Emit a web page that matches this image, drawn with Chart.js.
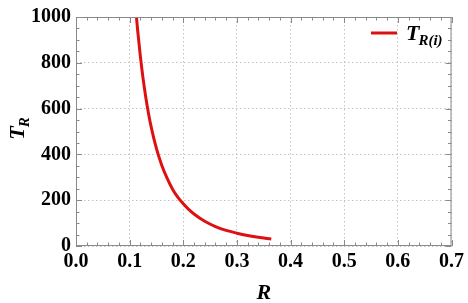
<!DOCTYPE html>
<html>
<head>
<meta charset="utf-8">
<script src="https://cdn.jsdelivr.net/npm/chart.js@4.4.0/dist/chart.umd.min.js"></script>
<style>
  html, body { margin: 0; padding: 0; background: #fff; }
</style>
</head>
<body>
<canvas id="grafico" width="468" height="303"></canvas>
<script>
// valores
var rValores = [0.1127, 0.115, 0.12, 0.125, 0.13, 0.135, 0.14, 0.15, 0.16, 0.17, 0.18, 0.19, 0.20, 0.21, 0.22, 0.24, 0.26, 0.28, 0.30, 0.32, 0.34, 0.364];
var tValores = [1000, 940, 828, 732, 651, 581, 521, 425, 352, 295, 248, 212, 184, 160, 140, 108, 85, 68, 56, 46, 38, 31];
var xTicks = [0, 0.1, 0.2, 0.3, 0.4, 0.5, 0.6, 0.7];
var xEtiquetas = ['0.0', '0.1', '0.2', '0.3', '0.4', '0.5', '0.6', '0.7'];
var yTicks = [0, 200, 400, 600, 800, 1000];
var yEtiquetas = ['0', '200', '400', '600', '800', '1000'];

var rojo = '#dd1111';
var gris = '#8a8a8a';
var fuente = '"Liberation Serif", "Times New Roman", serif';

var puntos = rValores.map(function (r, i) { return { x: r, y: tValores[i] }; });

// marco, ticks hacia adentro, titulos y leyenda
var marco = {
  id: 'marco',
  afterDraw: function (chart) {
    var ctx = chart.ctx;
    var a = chart.chartArea;
    var sx = chart.scales.x, sy = chart.scales.y;
    ctx.save();
    ctx.strokeStyle = gris;
    ctx.lineWidth = 1;
    ctx.strokeRect(a.left + 0.5, a.top + 0.5, a.right - a.left - 1, a.bottom - a.top - 1);
    ctx.beginPath();
    for (var i = 0; i <= 35; i++) {
      var v = i * 0.02;
      var px = Math.round(sx.getPixelForValue(v)) + 0.5;
      var len = (i % 5 === 0) ? 6 : 3.5;
      ctx.moveTo(px, a.bottom); ctx.lineTo(px, a.bottom - len);
      ctx.moveTo(px, a.top); ctx.lineTo(px, a.top + len);
    }
    for (var j = 0; j <= 20; j++) {
      var w = j * 50;
      var py = Math.round(sy.getPixelForValue(w)) + 0.5;
      var l2 = (j % 4 === 0) ? 6 : 3.5;
      ctx.moveTo(a.left, py); ctx.lineTo(a.left + l2, py);
      ctx.moveTo(a.right, py); ctx.lineTo(a.right - l2, py);
    }
    ctx.stroke();

    // titulo eje x
    ctx.fillStyle = '#000';
    ctx.textBaseline = 'alphabetic';
    ctx.textAlign = 'center';
    ctx.font = 'italic bold 22px ' + fuente;
    ctx.fillText('R', (a.left + a.right) / 2, 299);

    // titulo eje y
    ctx.save();
    ctx.translate(24, 128);
    ctx.rotate(-Math.PI / 2);
    ctx.textAlign = 'left';
    ctx.font = 'italic bold 22px ' + fuente;
    var wT = ctx.measureText('T').width;
    ctx.font = 'italic bold 15px ' + fuente;
    var wR = ctx.measureText('R').width;
    var x0 = -(wT + wR) / 2;
    ctx.font = 'italic bold 22px ' + fuente;
    ctx.fillText('T', x0, 0);
    ctx.font = 'italic bold 15px ' + fuente;
    ctx.fillText('R', x0 + wT - 1, 5);
    ctx.restore();

    // leyenda
    ctx.strokeStyle = rojo;
    ctx.lineWidth = 3;
    ctx.beginPath();
    ctx.moveTo(371, 33); ctx.lineTo(397, 33);
    ctx.stroke();
    ctx.textAlign = 'left';
    ctx.font = 'italic bold 22px ' + fuente;
    ctx.fillText('T', 406, 40);
    var anchoT = ctx.measureText('T').width;
    ctx.font = 'italic bold 15px ' + fuente;
    ctx.fillText('R(i)', 406 + anchoT - 1, 45);
    ctx.restore();
  }
};

var ctx = document.getElementById('grafico').getContext('2d');
var grafico = new Chart(ctx, {
  type: 'line',
  data: {
    datasets: [{
      label: 'T_R(i)',
      data: puntos,
      borderColor: rojo,
      borderWidth: 3,
      pointRadius: 0,
      fill: false,
      cubicInterpolationMode: 'monotone'
    }]
  },
  options: {
    responsive: false,
    animation: false,
    devicePixelRatio: 1,
    layout: { padding: { top: 12, right: 13, left: 0, bottom: 0 } },
    plugins: { legend: { display: false }, tooltip: { enabled: false } },
    scales: {
      x: {
        type: 'linear',
        min: 0,
        max: 0.7,
        afterBuildTicks: function (s) { s.ticks = xTicks.map(function (v) { return { value: v }; }); },
        afterFit: function (s) { s.height = 57; },
        ticks: {
          color: '#000',
          padding: 4,
          font: { family: fuente, size: 20, weight: 'bold' },
          callback: function (v) { return xEtiquetas[xTicks.indexOf(v)]; }
        },
        grid: { color: '#c4c4c4', drawTicks: false },
        border: { display: false, dash: [1.5, 2.5] }
      },
      y: {
        min: 0,
        max: 1000,
        afterBuildTicks: function (s) { s.ticks = yTicks.map(function (v) { return { value: v }; }); },
        afterFit: function (s) { s.width = 76; },
        ticks: {
          color: '#000',
          padding: 5,
          font: { family: fuente, size: 20, weight: 'bold' },
          callback: function (v) { return yEtiquetas[yTicks.indexOf(v)]; }
        },
        grid: { color: '#c4c4c4', drawTicks: false },
        border: { display: false, dash: [1.5, 2.5] }
      }
    }
  },
  plugins: [marco]
});
</script>
</body>
</html>
